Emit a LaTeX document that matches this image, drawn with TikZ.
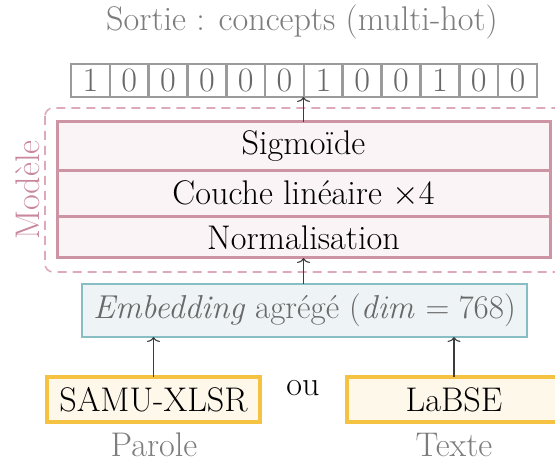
\RequirePackage{fix-cm}
\documentclass[tikz,border=0pt]{standalone}
\usetikzlibrary{arrows.meta}
\definecolor{pinkb}{RGB}{205,148,163}
\definecolor{pinkd}{RGB}{222,170,185}
\definecolor{pinkt}{RGB}{200,135,155}
\definecolor{pinkf}{RGB}{250,244,246}
\definecolor{tealb}{RGB}{135,190,196}
\definecolor{tealf}{RGB}{238,244,246}
\definecolor{goldb}{RGB}{245,195,65}
\definecolor{goldf}{RGB}{254,248,235}
\definecolor{grayt}{RGB}{125,125,125}
\definecolor{grayb}{RGB}{155,155,155}
\definecolor{grayd}{RGB}{105,105,105}
\definecolor{arr}{RGB}{60,60,60}
\begin{document}
\begin{tikzpicture}[x=1pt,y=-1pt,
  every node/.style={font=\fontsize{34.2}{40}\selectfont, inner sep=0pt, outer sep=0pt},
  cell/.style={draw=grayb, line width=2.6pt, minimum width=38.8pt, minimum height=33pt, text=grayd},
  layer/.style={draw=pinkb, fill=pinkf, line width=3pt, minimum width=493pt},
  embbox/.style={draw=tealb, fill=tealf, line width=2.6pt, minimum width=445pt, minimum height=53pt, text=grayd, font=\fontsize{33.1}{40}\selectfont},
  encbox/.style={draw=goldb, fill=goldf, line width=3.2pt, minimum width=213pt, minimum height=45pt},
  graylabel/.style={text=grayt},
  conn/.style={draw=arr, line width=1.1pt, -{To[length=5pt,width=13pt]}}
]
\useasboundingbox (0,0) rectangle (555,462);
% dashed model container
\draw[pinkd, line width=1.6pt, dash pattern=on 9pt off 6pt, rounded corners=8pt] (45,108) rectangle (568,272);
\node[text=pinkt, rotate=90] (modlbl) at (28,190) {Modèle};
% title
\node[graylabel] (title) at (302,22) {Sortie : concepts (multi-hot)};
% output vector
\foreach \v [count=\i] in {1,0,0,0,0,0,1,0,0,1,0,0}{
  \node[cell] (v\i) at ({71+38.83*(\i-0.5)},80.5) {\v};
}
\coordinate (vout) at (304,97);
% model layers
\node[layer, minimum height=49pt] (sig) at (303.5,146.5) {Sigmoïde};
\node[layer, minimum height=46pt] (lin) at (303.5,194) {Couche linéaire $\times4$};
\node[layer, minimum height=41pt] (norm) at (303.5,237.5) {Normalisation};
% embedding
\node[embbox] (emb) at (304.5,310.5) {\textit{Embedding} agrégé ($\mathit{dim}=768$)};
% encoders
\node[encbox] (samu) at (153.5,399.5) {SAMU-XLSR};
\node[encbox, minimum width=214pt] (labse) at (454,399.5) {LaBSE};
\node (ou) at (303,388) {ou};
\node[graylabel] (parole) at (154,445) {Parole};
\node[graylabel] (texte) at (454,445) {Texte};
% connectors
\draw[conn] (samu.north) -- (samu.north |- emb.south);
\draw[conn] (labse.north) -- (labse.north |- emb.south);
\draw[conn] (emb.north -| norm.south) -- (norm.south);
\draw[conn] (sig.north) -- (sig.north |- vout);
\end{tikzpicture}
\end{document}
